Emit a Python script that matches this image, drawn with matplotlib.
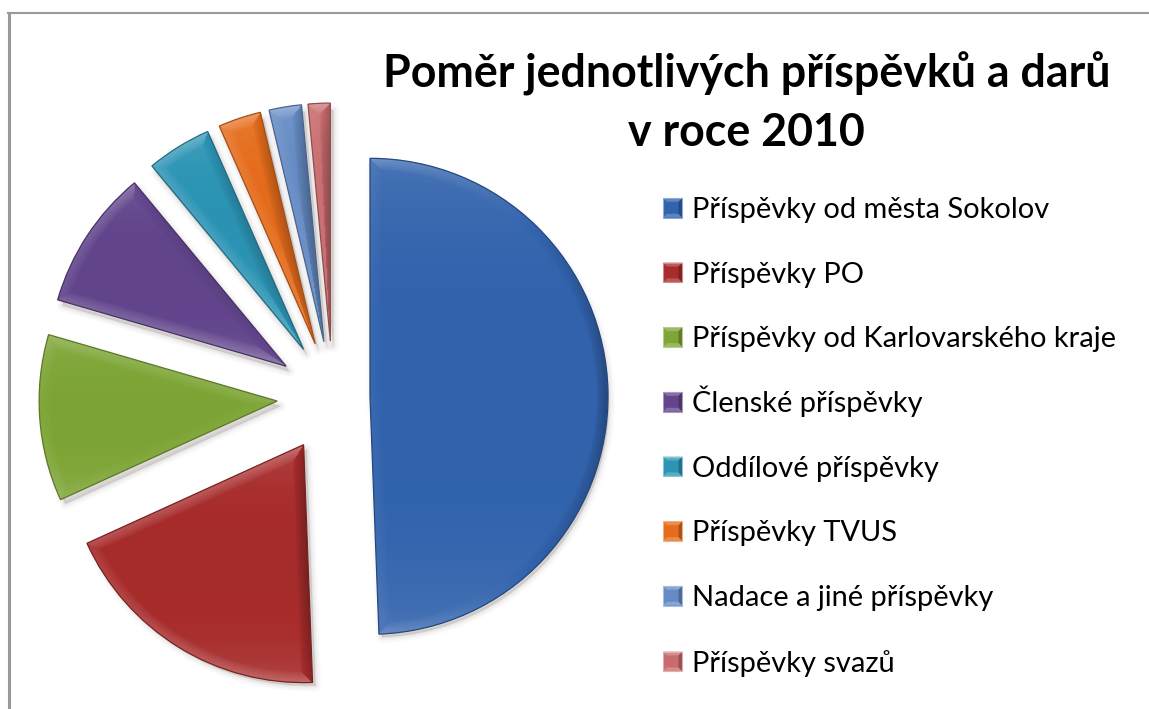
import numpy as np
import matplotlib
matplotlib.use("Agg")
import matplotlib.pyplot as plt
from matplotlib.colors import to_rgb
from matplotlib.legend_handler import HandlerBase
from matplotlib.patches import Patch, Polygon, Wedge
from matplotlib.lines import Line2D

TITLE = "Poměr jednotlivých příspěvků a darů\nv roce 2010"
labels = ["Příspěvky od města Sokolov", "Příspěvky PO", "Příspěvky od Karlovarského kraje",
          "Členské příspěvky", "Oddílové příspěvky", "Příspěvky TVUS",
          "Nadace a jiné příspěvky", "Příspěvky svazů"]
values = [49.4, 18.8, 11.3, 9.5, 4.4, 2.9, 2.2, 1.5]
colors = ["#3263AD", "#A82C2C", "#7EA536", "#62458C", "#2C94B5", "#E56C1C", "#658BC4", "#C86B6D"]
explode_px = [37, 56, 56, 56, 56, 56, 56, 56]

plt.rcParams["font.family"] = ["Lato", "Noto Sans", "DejaVu Sans"]
W, H = 1149, 709
fig = plt.figure(figsize=(W / 100, H / 100), dpi=100, facecolor="white")
ax = fig.add_axes([0, 0, 1, 1])

wedges, _ = ax.pie(values, explode=explode_px, radius=238, center=(333, H - 397),
                   startangle=90, counterclock=False, colors=colors,
                   wedgeprops=dict(linewidth=0), frame=False)
ax.set_aspect("equal")
ax.set_xlim(0, W)
ax.set_ylim(0, H)
ax.axis("off")


def shaded(wedge, base, bevel=11.0):
    """Bevel shading computed from the wedge's own geometry."""
    cx, cy = wedge.center
    r, t1, t2 = wedge.r, np.radians(wedge.theta1), np.radians(wedge.theta2)
    xs = [cx, cx + r * np.cos(t1), cx + r * np.cos(t2)]
    ys = [cy, cy + r * np.sin(t1), cy + r * np.sin(t2)]
    tt = np.linspace(t1, t2, 60)
    xs += list(cx + r * np.cos(tt)); ys += list(cy + r * np.sin(tt))
    x0, x1, y0, y1 = min(xs), max(xs), min(ys), max(ys)
    gx, gy = np.meshgrid(np.arange(x0, x1 + 1), np.arange(y0, y1 + 1))
    dx, dy = gx - cx, gy - cy
    rad = np.hypot(dx, dy)
    d1 = dx * -np.sin(t1) + dy * np.cos(t1)
    n1 = (np.sin(t1), -np.cos(t1))
    d2 = dx * np.sin(t2) - dy * np.cos(t2)
    n2 = (-np.sin(t2), np.cos(t2))
    d3 = r - rad
    nax, nay = dx / np.maximum(rad, 1), dy / np.maximum(rad, 1)
    dist = np.stack([d1, d2, d3])
    idx = np.argmin(dist, axis=0)
    dmin = np.min(dist, axis=0)
    nx = np.choose(idx, [np.full_like(gx, n1[0]), np.full_like(gx, n2[0]), nax])
    ny = np.choose(idx, [np.full_like(gx, n1[1]), np.full_like(gx, n2[1]), nay])
    band = np.clip(1 - dmin / bevel, 0, 1)
    light = (0.20 * np.maximum(ny, 0) + 0.17 * np.maximum(-ny, 0)
             - 0.26 * np.maximum(nx, 0) + 0.04 * np.maximum(-nx, 0)) * band ** 0.7
    v = (gy - y0) / max(y1 - y0, 1)
    light = light + 0.12 * np.abs(2 * v - 1) ** 3 - 0.01
    base = np.array(to_rgb(base))
    img = np.where(light[..., None] > 0,
                   base + (1 - base) * light[..., None],
                   base * (1 + light[..., None]))
    return np.clip(img, 0, 1), (x0, x1, y0, y1)


for w, c in zip(wedges, colors):
    w.set_visible(False)
    cx, cy = w.center
    for grow, a in [(9, .012), (7, .018), (5, .028), (3, .04), (1, .06)]:
        ax.add_patch(Wedge((cx + 3, cy - 5), w.r - 2, w.theta1, w.theta2, facecolor="#4a3a30",
                           edgecolor="#4a3a30", linewidth=grow, alpha=a, zorder=1,
                           joinstyle="round"))
    img, ext = shaded(w, c)
    clip = Wedge(w.center, w.r, w.theta1, w.theta2, facecolor="none", edgecolor="none",
                 transform=ax.transData)
    ax.add_patch(clip)
    im = ax.imshow(img, extent=ext, origin="lower", zorder=2, interpolation="bilinear", aspect="auto")
    im.set_clip_path(clip)
    dark = tuple(np.array(to_rgb(c)) * 0.72)
    ax.add_patch(Wedge(w.center, w.r, w.theta1, w.theta2, facecolor="none",
                       edgecolor=dark, linewidth=0.9, zorder=3))
ax.set_aspect("auto")
ax.set_xlim(0, W)
ax.set_ylim(0, H)


class BevelSquare(HandlerBase):
    def create_artists(self, legend, orig, xd, yd, width, height, fontsize, trans):
        base = np.array(to_rgb(orig.get_facecolor()[:3]))
        x0, y0, x1, y1 = -xd, -yd, -xd + width, -yd + height
        b = width * 0.2
        lite = base + (1 - base) * 0.22
        dark = base * 0.75
        parts = [
            ([(x0, y0), (x1, y0), (x1, y1), (x0, y1)], base),
            ([(x0, y1), (x1, y1), (x1 - b, y1 - b), (x0 + b, y1 - b)], lite),
            ([(x0, y0), (x1, y0), (x1 - b, y0 + b), (x0 + b, y0 + b)], lite),
            ([(x1, y0), (x1, y1), (x1 - b, y1 - b), (x1 - b, y0 + b)], dark),
        ]
        out = [Polygon(p, closed=True, facecolor=col, edgecolor="none", transform=trans) for p, col in parts]
        out.append(Polygon(parts[0][0], closed=True, facecolor="none", edgecolor=base + (1 - base) * .45,
                           linewidth=0.8, transform=trans))
        return out


handles = [Patch(facecolor=c, label=l) for c, l in zip(colors, labels)]
leg = ax.legend(handles=handles, handler_map={Patch: BevelSquare()}, loc="upper left",
                bbox_to_anchor=(663 / W, 1 - 197 / H), borderaxespad=0, borderpad=0,
                frameon=False, fontsize=20.85, labelspacing=1.335, handlelength=0.67,
                handleheight=0.67, handletextpad=0.34, labelcolor="black")
# the caron on the capital letter must not make its row taller than the others
rows = leg._legend_handle_box.get_children()[0].get_children()
rows[3].get_children()[1].get_bbox = rows[1].get_children()[1].get_bbox

fig.text(746.5 / W, 1 - 103 / H, TITLE, ha="center", va="center", fontsize=32.25, fontweight="bold",
         color="black", linespacing=1.46)

fig.add_artist(Line2D([9 / W, 9 / W], [0, 1 - 12.5 / H], color="#999999", lw=2.2))
fig.add_artist(Line2D([8 / W, 1], [1 - 12.5 / H, 1 - 12.5 / H], color="#999999", lw=1.5))

fig.savefig("out.png", dpi=100, facecolor="white")
